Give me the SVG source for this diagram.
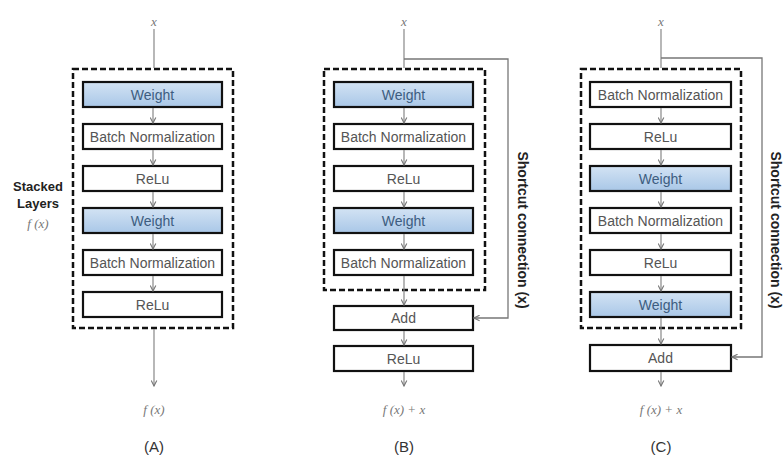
<svg xmlns="http://www.w3.org/2000/svg" width="784" height="460" viewBox="0 0 784 460">
  <defs>
    <linearGradient id="wgrad" x1="0" y1="0" x2="0" y2="1">
      <stop offset="0" stop-color="#d3e3f4"/>
      <stop offset="1" stop-color="#a9c7e7"/>
    </linearGradient>
    <marker id="arr" viewBox="0 0 10 10" refX="9" refY="5" markerWidth="7" markerHeight="7" orient="auto" markerUnits="userSpaceOnUse">
      <path d="M1,1 L9,5 L1,9" fill="none" stroke="#777" stroke-width="1.6"/>
    </marker>
  </defs>
  <style>
    .grp { fill: none; stroke: #111; stroke-width: 2.5; stroke-dasharray: 6 3; }
    .box { fill: #fff; stroke: #111; stroke-width: 2.2; }
    .wbox { fill: url(#wgrad); stroke: #111; stroke-width: 2.2; }
    .lbl { font-family: "Liberation Sans", Arial, sans-serif; font-size: 14px; fill: #555; text-anchor: middle; }
    .wlbl { font-family: "Liberation Sans", Arial, sans-serif; font-size: 14px; fill: #3d5d80; text-anchor: middle; }
    .math { font-family: "Liberation Serif", "Times New Roman", serif; font-style: italic; font-size: 13px; fill: #777; text-anchor: middle; }
    .cap { font-family: "Liberation Sans", Arial, sans-serif; font-size: 15px; fill: #333; text-anchor: middle; }
    .side { font-family: "Liberation Sans", Arial, sans-serif; font-size: 13px; font-weight: bold; fill: #222; }
    .vside { font-family: "Liberation Sans", Arial, sans-serif; font-size: 14px; font-weight: bold; fill: #222; text-anchor: middle; }
    .flow { fill: none; stroke: #888; stroke-width: 1.2; }
    .sc { fill: none; stroke: #777; stroke-width: 1.3; }
  </style>

  <rect width="784" height="460" fill="#fff"/>

  <!-- Panel A: plain stacked layers -->
  <g id="panelA">
    <rect id="A-group" class="grp" x="73" y="69" width="160" height="259"/>
    <g id="A-weight1"><rect class="wbox" x="83" y="82" width="139" height="25"/><text class="wlbl" x="152.5" y="99.5">Weight</text></g>
    <g id="A-bn1"><rect class="box" x="83" y="124" width="139" height="25"/><text class="lbl" x="152.5" y="141.5">Batch Normalization</text></g>
    <g id="A-relu1"><rect class="box" x="83" y="166" width="139" height="25"/><text class="lbl" x="152.5" y="183.5">ReLu</text></g>
    <g id="A-weight2"><rect class="wbox" x="83" y="208" width="139" height="25"/><text class="wlbl" x="152.5" y="225.5">Weight</text></g>
    <g id="A-bn2"><rect class="box" x="83" y="250" width="139" height="25"/><text class="lbl" x="152.5" y="267.5">Batch Normalization</text></g>
    <g id="A-relu2"><rect class="box" x="83" y="292" width="139" height="25"/><text class="lbl" x="152.5" y="309.5">ReLu</text></g>
    <g id="A-labels">
      <text class="math" x="154" y="26">x</text>
      <text class="side" x="38" y="191" text-anchor="middle">Stacked</text>
      <text class="side" x="38" y="208" text-anchor="middle">Layers</text>
      <text class="math" x="38" y="228">f (x)</text>
      <text class="math" x="154" y="414">f (x)</text>
      <text class="cap" x="154" y="452">(A)</text>
    </g>
  </g>

  <!-- Panel B: residual block, activation after the addition -->
  <g id="panelB">
    <rect id="B-group" class="grp" x="324" y="69" width="161" height="221"/>
    <g id="B-weight1"><rect class="wbox" x="334" y="82" width="139" height="25"/><text class="wlbl" x="403.5" y="99.5">Weight</text></g>
    <g id="B-bn1"><rect class="box" x="334" y="124" width="139" height="25"/><text class="lbl" x="403.5" y="141.5">Batch Normalization</text></g>
    <g id="B-relu1"><rect class="box" x="334" y="166" width="139" height="25"/><text class="lbl" x="403.5" y="183.5">ReLu</text></g>
    <g id="B-weight2"><rect class="wbox" x="334" y="208" width="139" height="25"/><text class="wlbl" x="403.5" y="225.5">Weight</text></g>
    <g id="B-bn2"><rect class="box" x="334" y="250" width="139" height="25"/><text class="lbl" x="403.5" y="267.5">Batch Normalization</text></g>
    <g id="B-add"><rect class="box" x="334" y="306" width="139" height="24"/><text class="lbl" x="403.5" y="323">Add</text></g>
    <g id="B-relu"><rect class="box" x="334" y="346" width="139" height="25"/><text class="lbl" x="403.5" y="363.5">ReLu</text></g>
    <g id="B-labels">
      <text class="math" x="404" y="26">x</text>
      <text class="vside" transform="translate(518,230) rotate(90)">Shortcut connection (x)</text>
      <text class="math" x="404" y="414">f (x) + x</text>
      <text class="cap" x="404" y="452">(B)</text>
    </g>
  </g>

  <!-- Panel C: residual block, pre-activation ordering -->
  <g id="panelC">
    <rect id="C-group" class="grp" x="581" y="69" width="160" height="259"/>
    <g id="C-bn1"><rect class="box" x="590" y="82" width="141" height="25"/><text class="lbl" x="660.5" y="99.5">Batch Normalization</text></g>
    <g id="C-relu1"><rect class="box" x="590" y="124" width="141" height="25"/><text class="lbl" x="660.5" y="141.5">ReLu</text></g>
    <g id="C-weight1"><rect class="wbox" x="590" y="166" width="141" height="25"/><text class="wlbl" x="660.5" y="183.5">Weight</text></g>
    <g id="C-bn2"><rect class="box" x="590" y="208" width="141" height="25"/><text class="lbl" x="660.5" y="225.5">Batch Normalization</text></g>
    <g id="C-relu2"><rect class="box" x="590" y="250" width="141" height="25"/><text class="lbl" x="660.5" y="267.5">ReLu</text></g>
    <g id="C-weight2"><rect class="wbox" x="590" y="292" width="141" height="25"/><text class="wlbl" x="660.5" y="309.5">Weight</text></g>
    <g id="C-add"><rect class="box" x="590" y="345" width="141" height="26"/><text class="lbl" x="660.5" y="363">Add</text></g>
    <g id="C-labels">
      <text class="math" x="661" y="26">x</text>
      <text class="vside" transform="translate(771,230) rotate(90)">Shortcut connection (x)</text>
      <text class="math" x="661" y="414">f (x) + x</text>
      <text class="cap" x="661" y="452">(C)</text>
    </g>
  </g>

  <!-- Connectors -->
  <g id="connectors">
    <!-- A -->
    <line class="flow" x1="154" y1="29" x2="154" y2="68"/>
    <line class="flow" x1="153" y1="108" x2="153" y2="123" marker-end="url(#arr)"/>
    <line class="flow" x1="153" y1="150" x2="153" y2="165" marker-end="url(#arr)"/>
    <line class="flow" x1="153" y1="192" x2="153" y2="207" marker-end="url(#arr)"/>
    <line class="flow" x1="153" y1="234" x2="153" y2="249" marker-end="url(#arr)"/>
    <line class="flow" x1="153" y1="276" x2="153" y2="291" marker-end="url(#arr)"/>
    <line class="flow" x1="154" y1="329" x2="154" y2="386" marker-end="url(#arr)"/>
    <!-- B -->
    <line class="flow" x1="404" y1="29" x2="404" y2="68"/>
    <line class="flow" x1="404" y1="108" x2="404" y2="123" marker-end="url(#arr)"/>
    <line class="flow" x1="404" y1="150" x2="404" y2="165" marker-end="url(#arr)"/>
    <line class="flow" x1="404" y1="192" x2="404" y2="207" marker-end="url(#arr)"/>
    <line class="flow" x1="404" y1="234" x2="404" y2="249" marker-end="url(#arr)"/>
    <line class="flow" x1="404" y1="276" x2="404" y2="305" marker-end="url(#arr)"/>
    <line class="flow" x1="404" y1="331" x2="404" y2="345" marker-end="url(#arr)"/>
    <line class="flow" x1="404" y1="372" x2="404" y2="386" marker-end="url(#arr)"/>
    <polyline class="sc" points="404,59 508,59 508,318 474,318" marker-end="url(#arr)"/>
    <!-- C -->
    <line class="flow" x1="661" y1="29" x2="661" y2="68"/>
    <line class="flow" x1="661" y1="108" x2="661" y2="123" marker-end="url(#arr)"/>
    <line class="flow" x1="661" y1="150" x2="661" y2="165" marker-end="url(#arr)"/>
    <line class="flow" x1="661" y1="192" x2="661" y2="207" marker-end="url(#arr)"/>
    <line class="flow" x1="661" y1="234" x2="661" y2="249" marker-end="url(#arr)"/>
    <line class="flow" x1="661" y1="276" x2="661" y2="291" marker-end="url(#arr)"/>
    <line class="flow" x1="661" y1="318" x2="661" y2="344" marker-end="url(#arr)"/>
    <line class="flow" x1="661" y1="372" x2="661" y2="386" marker-end="url(#arr)"/>
    <polyline class="sc" points="661,58 762,58 762,357 732,357" marker-end="url(#arr)"/>
  </g>
</svg>
